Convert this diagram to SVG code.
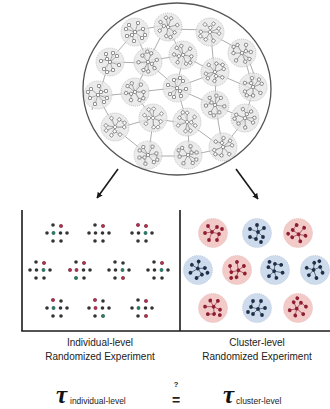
<svg xmlns="http://www.w3.org/2000/svg" xmlns:xlink="http://www.w3.org/1999/xlink" width="330" height="409" viewBox="0 0 330 409">
<style>
.lbl{font-family:"Liberation Sans",Arial,sans-serif;font-size:10px;fill:#222;text-anchor:middle}
.tau{font-family:"Liberation Serif","Times New Roman",serif;font-style:italic;font-weight:bold;font-size:25px;fill:#111}
.sub{font-family:"Liberation Sans",Arial,sans-serif;font-size:8.5px;fill:#222}
.frame{stroke:#1a1a1a;stroke-width:1.6;fill:none}
.arr{stroke:#1a1a1a;stroke-width:1.6;fill:none}
.link{stroke:#777;stroke-width:0.6;fill:none}
.nbg{fill:#e4e4e4;fill-opacity:0.75;stroke:#9a9a9a;stroke-width:0.5;stroke-dasharray:1 1}
.nd{fill:#fff;stroke:#555;stroke-width:0.6}
.sp{stroke:#666;stroke-width:0.5}
.r{fill:#b0304f}
.t{fill:#2b7b68}
.redc{fill:#f2cbc8;stroke:#d9a0a0;stroke-width:0.5;stroke-dasharray:1 1}
.bluc{fill:#cddbec;stroke:#9fb5cf;stroke-width:0.5;stroke-dasharray:1 1}
</style>
<defs>
<marker id="ah" viewBox="0 0 10 10" refX="9" refY="5" markerWidth="6" markerHeight="6" orient="auto" markerUnits="userSpaceOnUse">
<path d="M0,0 L10,5 L0,10 z" fill="#1a1a1a"/>
</marker>
<g id="nc">
<circle r="14" class="nbg"/>
<g class="sp">
<line x1="0" y1="0" x2="-6" y2="-7"/><line x1="0" y1="0" x2="3" y2="-9"/><line x1="0" y1="0" x2="8" y2="-3"/>
<line x1="0" y1="0" x2="7" y2="6"/><line x1="-3" y1="3" x2="-1" y2="9"/><line x1="-3" y1="3" x2="-8" y2="4"/>
<line x1="0" y1="0" x2="-9" y2="-3"/><line x1="0" y1="0" x2="-3" y2="3"/><line x1="8" y1="-3" x2="10" y2="3"/>
</g>
<rect class="nd" x="-1.5" y="-1.5" width="3" height="3" rx="0.5"/>
<rect class="nd" x="-7.5" y="-8.5" width="3" height="3" rx="0.5"/>
<rect class="nd" x="1.5" y="-10.5" width="3" height="3" rx="0.5"/>
<rect class="nd" x="6.5" y="-4.5" width="3" height="3" rx="0.5"/>
<rect class="nd" x="5.5" y="4.5" width="3" height="3" rx="0.5"/>
<rect class="nd" x="-2.5" y="7.5" width="3" height="3" rx="0.5"/>
<rect class="nd" x="-9.5" y="2.5" width="3" height="3" rx="0.5"/>
<rect class="nd" x="-10.5" y="-4.5" width="3" height="3" rx="0.5"/>
<rect class="nd" x="-4.5" y="1.5" width="3" height="3" rx="0.5"/>
<rect class="nd" x="8.5" y="1.5" width="3" height="3" rx="0.5"/>
</g>
<g id="ip" fill="#333">
<circle cx="-4" cy="-8" r="1.8"/><circle cx="4" cy="-7" r="1.8"/>
<circle cx="-10" cy="0" r="1.8"/><circle cx="-3.5" cy="0" r="1.8"/><circle cx="3.5" cy="0" r="1.8"/><circle cx="10" cy="0" r="1.8"/>
<circle cx="-4" cy="8" r="1.8"/><circle cx="4" cy="8" r="1.8"/>
</g>
<g id="cp">
<g stroke-width="0.6" fill="none">
<line x1="-1" y1="-1" x2="4" y2="-6"/><line x1="-1" y1="-1" x2="-8" y2="0"/><line x1="-1" y1="-1" x2="-4" y2="7"/>
<line x1="-1" y1="-1" x2="6" y2="1"/><line x1="6" y1="1" x2="4" y2="7"/><line x1="-5" y1="-7" x2="-1" y2="-1"/>
</g>
<g stroke="none">
<circle cx="-5" cy="-7" r="1.9"/><circle cx="4" cy="-6" r="1.9"/><circle cx="-8" cy="0" r="1.9"/><circle cx="-1" cy="-1" r="1.9"/>
<circle cx="6" cy="1" r="1.9"/><circle cx="-4" cy="7" r="1.9"/><circle cx="4" cy="7" r="1.9"/><circle cx="9" cy="-4" r="1.9"/>
</g>
</g>
</defs>
<rect width="330" height="409" fill="#fff"/>

<g id="population">
<ellipse cx="177" cy="89" rx="94" ry="86" fill="#fff" stroke="#555" stroke-width="1.3"/>
<g class="link">
<line x1="138" y1="30" x2="166" y2="25"/><line x1="171" y1="29" x2="207" y2="30"/><line x1="213" y1="35" x2="240" y2="50"/>
<line x1="132" y1="35" x2="112" y2="58"/><line x1="137" y1="36" x2="146" y2="58"/><line x1="168" y1="30" x2="181" y2="52"/>
<line x1="211" y1="35" x2="214" y2="69"/><line x1="244" y1="56" x2="252" y2="84"/><line x1="113" y1="62" x2="145" y2="63"/>
<line x1="151" y1="60" x2="180" y2="56"/><line x1="186" y1="57" x2="212" y2="71"/><line x1="218" y1="74" x2="250" y2="88"/>
<line x1="108" y1="65" x2="100" y2="92"/><line x1="147" y1="65" x2="136" y2="89"/><line x1="183" y1="58" x2="177" y2="85"/>
<line x1="216" y1="75" x2="215" y2="102"/><line x1="253" y1="90" x2="246" y2="115"/><line x1="101" y1="96" x2="132" y2="93"/>
<line x1="138" y1="92" x2="174" y2="88"/><line x1="180" y1="90" x2="212" y2="104"/><line x1="218" y1="107" x2="242" y2="117"/>
<line x1="99" y1="98" x2="113" y2="124"/><line x1="136" y1="95" x2="151" y2="116"/><line x1="178" y1="91" x2="186" y2="119"/>
<line x1="216" y1="108" x2="222" y2="144"/><line x1="244" y1="121" x2="225" y2="145"/><line x1="118" y1="128" x2="150" y2="119"/>
<line x1="156" y1="119" x2="184" y2="123"/><line x1="190" y1="124" x2="220" y2="146"/><line x1="117" y1="130" x2="146" y2="153"/>
<line x1="153" y1="121" x2="149" y2="152"/><line x1="188" y1="125" x2="189" y2="152"/><line x1="151" y1="156" x2="185" y2="156"/>
<line x1="220" y1="149" x2="191" y2="155"/><line x1="150" y1="64" x2="175" y2="86"/><line x1="213" y1="74" x2="180" y2="86"/>
<line x1="247" y1="55" x2="256" y2="80"/><line x1="95" y1="98" x2="92" y2="110"/><line x1="160" y1="38" x2="150" y2="58"/>
</g>
<use xlink:href="#nc" transform="translate(135,32)"/>
<use xlink:href="#nc" transform="translate(168,27) rotate(60)"/>
<use xlink:href="#nc" transform="translate(210,32) rotate(140)"/>
<use xlink:href="#nc" transform="translate(242,53) rotate(200)"/>
<use xlink:href="#nc" transform="translate(110,62) rotate(90)"/>
<use xlink:href="#nc" transform="translate(148,62) rotate(250)"/>
<use xlink:href="#nc" transform="translate(183,55) rotate(30)"/>
<use xlink:href="#nc" transform="translate(215,72) rotate(300)"/>
<use xlink:href="#nc" transform="translate(253,87) rotate(110)"/>
<use xlink:href="#nc" transform="translate(98,95) rotate(180)"/>
<use xlink:href="#nc" transform="translate(135,92) rotate(20)"/>
<use xlink:href="#nc" transform="translate(177,88) rotate(270)"/>
<use xlink:href="#nc" transform="translate(215,105) rotate(80)"/>
<use xlink:href="#nc" transform="translate(245,118) rotate(160)"/>
<use xlink:href="#nc" transform="translate(115,127) rotate(320)"/>
<use xlink:href="#nc" transform="translate(153,118) rotate(45)"/>
<use xlink:href="#nc" transform="translate(187,122) rotate(230)"/>
<use xlink:href="#nc" transform="translate(223,147) rotate(120)"/>
<use xlink:href="#nc" transform="translate(148,155) rotate(10)"/>
<use xlink:href="#nc" transform="translate(188,155) rotate(190)"/>
</g>

<g id="connectors">
<line class="arr" x1="118" y1="169" x2="97" y2="198" marker-end="url(#ah)"/>
<line class="arr" x1="236" y1="169" x2="258" y2="199" marker-end="url(#ah)"/>
</g>

<g id="frame">
<line class="frame" x1="22" y1="210" x2="22" y2="331"/>
<line class="frame" x1="180" y1="210" x2="180" y2="331"/>
<line class="frame" x1="21.2" y1="331" x2="330" y2="331"/>
</g>

<g id="individual-level">
<use xlink:href="#ip" transform="translate(57,233)"/>
<use xlink:href="#ip" transform="translate(99,233)"/>
<use xlink:href="#ip" transform="translate(142,233)"/>
<use xlink:href="#ip" transform="translate(40,270)"/>
<use xlink:href="#ip" transform="translate(80,270)"/>
<use xlink:href="#ip" transform="translate(119,270)"/>
<use xlink:href="#ip" transform="translate(158,270)"/>
<use xlink:href="#ip" transform="translate(57,308)"/>
<use xlink:href="#ip" transform="translate(99,308)"/>
<use xlink:href="#ip" transform="translate(142,308)"/>
<circle class="r" cx="61" cy="226" r="1.8"/><circle class="t" cx="53.5" cy="233" r="1.8"/>
<circle class="r" cx="103" cy="226" r="1.8"/>
<circle class="r" cx="138" cy="225" r="1.8"/><circle class="r" cx="146" cy="226" r="1.8"/><circle class="t" cx="145.5" cy="233" r="1.8"/>
<circle class="r" cx="44" cy="263" r="1.8"/><circle class="t" cx="43.5" cy="270" r="1.8"/>
<circle class="r" cx="84" cy="263" r="1.8"/><circle class="r" cx="70" cy="270" r="1.8"/><circle class="r" cx="76.5" cy="270" r="1.8"/><circle class="t" cx="76" cy="278" r="1.8"/>
<circle class="t" cx="122.5" cy="270" r="1.8"/><circle class="r" cx="123" cy="278" r="1.8"/>
<circle class="r" cx="162" cy="263" r="1.8"/><circle class="t" cx="161.5" cy="270" r="1.8"/>
<circle class="r" cx="53" cy="300" r="1.8"/><circle class="t" cx="53.5" cy="308" r="1.8"/>
<circle class="r" cx="95" cy="300" r="1.8"/><circle class="r" cx="95.5" cy="308" r="1.8"/><circle class="t" cx="103" cy="316" r="1.8"/>
<circle class="r" cx="146" cy="301" r="1.8"/><circle class="t" cx="138.5" cy="308" r="1.8"/><circle class="r" cx="146" cy="316" r="1.8"/>
</g>

<g id="cluster-level">
<circle class="redc" cx="213" cy="233" r="14.5"/><use xlink:href="#cp" transform="translate(213,233)" fill="#8e1f33" stroke="#8e1f33"/>
<circle class="bluc" cx="257" cy="233" r="14.5"/><use xlink:href="#cp" transform="translate(257,233) rotate(90)" fill="#1f2f48" stroke="#1f2f48"/>
<circle class="redc" cx="298" cy="233" r="14.5"/><use xlink:href="#cp" transform="translate(298,233) rotate(200)" fill="#8e1f33" stroke="#8e1f33"/>
<circle class="bluc" cx="198" cy="270" r="14.5"/><use xlink:href="#cp" transform="translate(198,270) rotate(40)" fill="#1f2f48" stroke="#1f2f48"/>
<circle class="redc" cx="237" cy="270" r="14.5"/><use xlink:href="#cp" transform="translate(237,270) rotate(150)" fill="#8e1f33" stroke="#8e1f33"/>
<circle class="bluc" cx="275" cy="270" r="14.5"/><use xlink:href="#cp" transform="translate(275,270) rotate(260)" fill="#1f2f48" stroke="#1f2f48"/>
<circle class="bluc" cx="315" cy="270" r="14.5"/><use xlink:href="#cp" transform="translate(315,270) rotate(320)" fill="#1f2f48" stroke="#1f2f48"/>
<circle class="redc" cx="213" cy="308" r="14.5"/><use xlink:href="#cp" transform="translate(213,308) rotate(70)" fill="#8e1f33" stroke="#8e1f33"/>
<circle class="bluc" cx="257" cy="308" r="14.5"/><use xlink:href="#cp" transform="translate(257,308) rotate(180)" fill="#1f2f48" stroke="#1f2f48"/>
<circle class="redc" cx="298" cy="308" r="14.5"/><use xlink:href="#cp" transform="translate(298,308) rotate(290)" fill="#8e1f33" stroke="#8e1f33"/>
</g>

<g id="labels">
<text class="lbl" x="100" y="346">Individual-level</text>
<text class="lbl" x="100" y="360">Randomized Experiment</text>
<text class="lbl" x="257" y="346">Cluster-level</text>
<text class="lbl" x="257" y="360">Randomized Experiment</text>
</g>

<g id="equation">
<text class="tau" x="56" y="403">τ</text>
<text class="sub" x="70" y="404">individual-level</text>
<text x="176" y="387" font-family="Liberation Sans,Arial,sans-serif" font-size="7.5" font-weight="bold" fill="#222" text-anchor="middle">?</text>
<text x="176" y="405" font-family="Liberation Sans,Arial,sans-serif" font-size="14" font-weight="bold" fill="#222" text-anchor="middle">=</text>
<text class="tau" x="223" y="403">τ</text>
<text class="sub" x="236" y="404">cluster-level</text>
</g>
</svg>
